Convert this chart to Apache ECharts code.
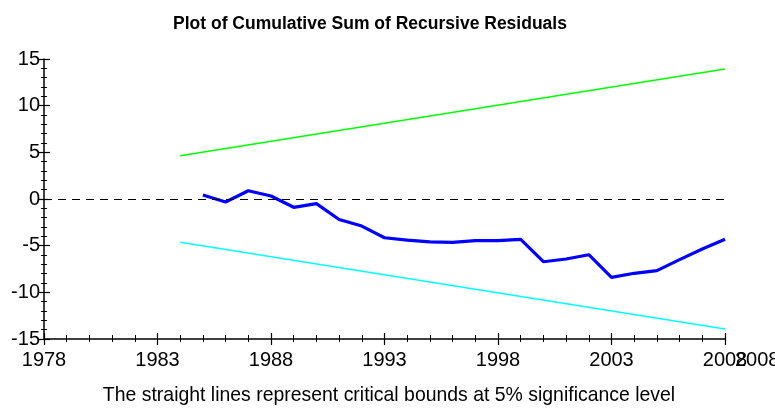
<!DOCTYPE html>
<html>
<head>
<meta charset="utf-8">
<script src="https://cdn.jsdelivr.net/npm/echarts@6/dist/echarts.min.js"></script>
<style>
  html, body { margin: 0; padding: 0; background: #fff; }
  #chart { width: 775px; height: 410px; }
</style>
</head>
<body>
<div id="chart"></div>
<script>
// cusum values
const years = [1985, 1986, 1987, 1988, 1989, 1990, 1991, 1992, 1993, 1994, 1995, 1996,
  1997, 1998, 1999, 2000, 2001, 2002, 2003, 2004, 2005, 2006, 2007, 2008];
const cusum = [0.43, -0.32, 0.89, 0.32, -0.89, -0.5, -2.2, -2.9, -4.15, -4.4, -4.6, -4.64,
  -4.47, -4.45, -4.32, -6.72, -6.43, -5.97, -8.39, -7.96, -7.68, -6.5, -5.36, -4.32];
// 5% bounds (straight lines, endpoints only)
const boundYears = [1984, 2008];
const upperBound = [4.64, 13.93];
const lowerBound = [-4.64, -13.93];

const FONT = '"Liberation Sans", Arial, sans-serif';

const chart = echarts.init(document.getElementById('chart'));

const zip = (xs, ys) => xs.map((x, i) => [x, ys[i]]);

const baseX = {
  type: 'value', min: 1978, max: 2008, interval: 5,
  splitLine: { show: false }
};
const baseY = {
  type: 'value', min: -15, max: 15, interval: 5,
  splitLine: { show: false }
};

const option = {
  animation: false,
  title: {
    text: 'Plot of Cumulative Sum of Recursive Residuals',
    left: 365, top: 10, textAlign: 'center',
    textStyle: { fontFamily: FONT, fontSize: 17.5, fontWeight: 'bold', color: '#000' }
  },
  grid: { left: 44, right: 50, top: 59, bottom: 71 },
  xAxis: [
    Object.assign({}, baseX, {
      axisLine: { onZero: false, lineStyle: { color: '#000', width: 1.5 } },
      axisTick: { length: 6, lineStyle: { color: '#000', width: 1.2 } },
      minorTick: { show: true, splitNumber: 5, length: 3, lineStyle: { color: '#000' } },
      axisLabel: { color: '#000', fontFamily: FONT, fontSize: 20, margin: 11, formatter: v => String(v) }
    }),
    Object.assign({}, baseX, {
      position: 'bottom',
      axisLine: { show: false, onZero: false },
      axisTick: { inside: true, length: 6, lineStyle: { color: '#000', width: 1.2 } },
      minorTick: { show: true, splitNumber: 5, length: 4, lineStyle: { color: '#000' } },
      axisLabel: { show: false }
    })
  ],
  yAxis: [
    Object.assign({}, baseY, {
      axisLine: { show: true, onZero: false, lineStyle: { color: '#000', width: 1.5 } },
      axisTick: { show: true, length: 6, lineStyle: { color: '#000', width: 1.2 } },
      minorTick: { show: true, splitNumber: 5, length: 3, lineStyle: { color: '#000' } },
      axisLabel: { color: '#000', fontFamily: FONT, fontSize: 20, margin: 4 }
    }),
    Object.assign({}, baseY, {
      position: 'left',
      axisLine: { show: false, onZero: false },
      axisTick: { show: true, inside: true, length: 6, lineStyle: { color: '#000', width: 1.2 } },
      minorTick: { show: true, splitNumber: 5, length: 3, lineStyle: { color: '#000' } },
      axisLabel: { show: false }
    })
  ],
  series: [
    {
      type: 'line', name: 'upper', data: zip(boundYears, upperBound),
      symbol: 'none', lineStyle: { color: '#00ff00', width: 1.5 },
      markLine: {
        silent: true, symbol: 'none', label: { show: false },
        lineStyle: { color: '#000', type: [8, 6], width: 1 },
        data: [{ yAxis: 0 }]
      }
    },
    {
      type: 'line', name: 'lower', data: zip(boundYears, lowerBound),
      symbol: 'none', lineStyle: { color: '#00ffff', width: 1.5 }
    },
    {
      type: 'line', name: 'cusum', data: zip(years, cusum),
      symbol: 'none', lineStyle: { color: '#0000ff', width: 3.2 }
    }
  ],
  graphic: [
    {
      type: 'text', x: 735, y: 350,
      style: { text: '2008', font: '20px ' + FONT, fill: '#000' }
    },
    {
      type: 'text', x: 389, y: 385, scaleX: 0.925, originX: 0,
      style: {
        text: 'The straight lines represent critical bounds at 5% significance level',
        font: '21px ' + FONT, fill: '#000', align: 'center'
      }
    }
  ]
};

chart.setOption(option);
</script>
</body>
</html>
